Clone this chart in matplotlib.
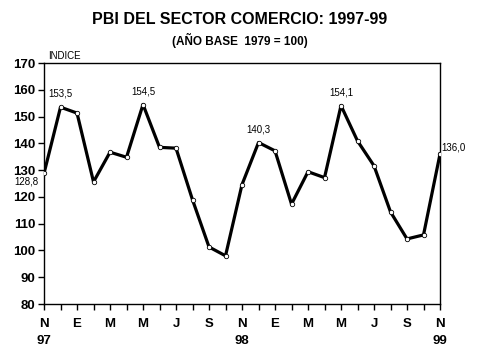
import matplotlib
matplotlib.use("Agg")
import matplotlib.pyplot as plt

# PBI del sector comercio, índice mensual nov-97 a nov-99 (1979 = 100)
meses = ["N", "D", "E", "F", "M", "A", "M", "J", "J", "A", "S", "O",
         "N", "D", "E", "F", "M", "A", "M", "J", "J", "A", "S", "O", "N"]
anios = {0: "97", 12: "98", 24: "99"}
indice = [128.8, 153.5, 151.3, 125.6, 136.7, 134.8, 154.5, 138.5, 138.2,
          118.9, 101.3, 98.0, 124.6, 140.3, 137.2, 117.3, 129.4, 127.2,
          154.1, 140.9, 131.6, 114.4, 104.3, 105.8, 136.0]
etiquetas = {1: "153,5", 6: "154,5", 13: "140,3", 18: "154,1"}

plt.rcParams["font.family"] = ["Liberation Sans", "DejaVu Sans"]

fig = plt.figure(figsize=(4.79, 3.59), dpi=100)
ax = fig.add_axes([0.0919, 0.1532, 0.8267, 0.6713])

x = list(range(len(indice)))
ax.plot(x, indice, color="black", lw=2.3, marker="o", ms=3.2,
        mfc="white", mec="black", mew=0.6, zorder=3)

for i, txt in etiquetas.items():
    ax.annotate(txt, (x[i], indice[i]), xytext=(0, 6), textcoords="offset points",
                ha="center", va="bottom", fontsize=7)
ax.annotate("128,8", (x[0], indice[0]), xytext=(-4, -2), textcoords="offset points",
            ha="right", va="top", fontsize=7, annotation_clip=False)
ax.annotate("136,0", (x[-1], indice[-1]), xytext=(1, 1), textcoords="offset points",
            ha="left", va="bottom", fontsize=7, annotation_clip=False)

ax.set_xlim(0, len(indice) - 1)
ax.set_ylim(80, 170)
ax.set_yticks(range(80, 171, 10))
ax.tick_params(axis="y", labelsize=9.5, length=4, width=1, pad=2)
for lab in ax.get_yticklabels():
    lab.set_fontweight("bold")

xlabels = []
for i, m in enumerate(meses):
    if i % 2:
        xlabels.append("")
    elif i in anios:
        xlabels.append(m + "\n" + anios[i])
    else:
        xlabels.append(m)
ax.set_xticks(x)
ax.set_xticklabels(xlabels, fontsize=9.5, fontweight="bold", linespacing=1.6)
ax.tick_params(axis="x", length=4, width=1, pad=6)

for s in ax.spines.values():
    s.set_linewidth(1)

fig.text(0.5, 0.945, "PBI DEL SECTOR COMERCIO: 1997-99", ha="center", va="center",
         fontsize=11.5, fontweight="bold")
fig.text(0.5, 0.888, "(AÑO BASE  1979 = 100)", ha="center", va="center",
         fontsize=8.5, fontweight="bold")
fig.text(0.1, 0.845, "INDICE", ha="left", va="center", fontsize=7)

fig.savefig("out.png", dpi=100)
